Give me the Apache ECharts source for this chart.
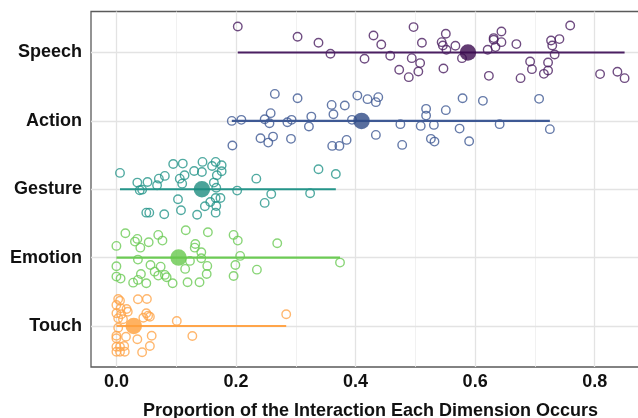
<!DOCTYPE html>
<html><head><meta charset="utf-8">
<script src="https://cdn.jsdelivr.net/npm/echarts@6/dist/echarts.min.js"></script>
<style>html,body{margin:0;padding:0;background:#fff}#c{width:638px;height:418px}</style>
</head><body><div id="c"></div>
<script>
// categories from bottom (1) to top (5)
const categories = ['Touch', 'Emotion', 'Gesture', 'Action', 'Speech'];
const xTicks = [0, 0.2, 0.4, 0.6, 0.8];
const xTickLabels = ['0.0', '0.2', '0.4', '0.6', '0.8'];
const xMinorTicks = [0.1, 0.3, 0.5, 0.7];
const xTitle = 'Proportion of the Interaction Each Dimension Occurs';

const speechX = [0.203,0.303,0.338,0.358,0.415,0.430,0.443,0.458,0.473,0.489,0.497,0.511,0.494,0.508,0.505,0.551,0.544,0.546,0.552,0.567,0.547,0.578,0.621,0.631,0.631,0.644,0.644,0.634,0.623,0.669,0.676,0.692,0.695,0.727,0.729,0.741,0.733,0.722,0.722,0.715,0.759,0.809,0.838,0.850];
const speechJitter = [0.380,0.230,0.142,-0.019,-0.092,0.249,0.117,-0.048,-0.253,-0.360,0.372,0.142,-0.082,-0.155,-0.278,0.274,0.152,0.102,0.040,0.098,-0.234,-0.082,0.040,0.211,0.186,0.307,0.152,0.079,-0.341,0.123,-0.375,-0.132,-0.243,0.176,0.102,0.196,-0.029,-0.146,-0.263,-0.312,0.395,-0.316,-0.282,-0.375];

const actionX = [0.193,0.209,0.194,0.265,0.248,0.258,0.256,0.241,0.254,0.262,0.303,0.286,0.293,0.292,0.326,0.322,0.360,0.363,0.382,0.361,0.373,0.385,0.403,0.420,0.434,0.438,0.394,0.434,0.475,0.478,0.518,0.518,0.509,0.531,0.526,0.532,0.551,0.579,0.574,0.590,0.613,0.641,0.707,0.725];
const actionJitter = [0.000,0.015,-0.361,0.395,0.025,0.113,-0.034,-0.253,-0.318,-0.230,0.332,-0.019,0.015,-0.263,0.063,-0.083,0.234,0.098,0.224,-0.366,-0.366,-0.278,0.370,0.318,0.274,0.347,0.015,-0.205,-0.048,-0.351,0.176,0.077,-0.073,-0.059,-0.263,-0.303,0.157,0.332,-0.113,-0.297,0.293,-0.048,0.322,-0.121];

const gestureX = [0.006,0.035,0.039,0.043,0.052,0.068,0.071,0.081,0.050,0.055,0.080,0.095,0.111,0.106,0.114,0.110,0.103,0.108,0.130,0.144,0.143,0.135,0.148,0.160,0.166,0.176,0.176,0.168,0.163,0.167,0.166,0.174,0.157,0.167,0.166,0.202,0.234,0.259,0.248,0.324,0.338,0.367];
const gestureJitter = [0.239,0.097,-0.015,-0.006,0.107,0.059,0.155,0.195,-0.342,-0.342,-0.366,0.370,0.375,0.155,0.205,0.082,-0.146,-0.307,0.268,0.400,0.253,-0.372,-0.249,0.341,0.400,0.351,0.263,0.205,0.097,0.023,-0.127,-0.127,-0.186,-0.244,-0.342,-0.020,0.155,-0.069,-0.200,-0.059,0.293,0.224];

const emotionX = [0.000,0.015,0.000,0.000,0.007,0.031,0.035,0.040,0.036,0.054,0.070,0.077,0.057,0.064,0.074,0.070,0.081,0.084,0.041,0.036,0.028,0.050,0.094,0.116,0.115,0.123,0.119,0.132,0.131,0.142,0.142,0.152,0.151,0.139,0.153,0.196,0.203,0.207,0.199,0.196,0.235,0.269,0.374];
const emotionJitter = [0.171,0.357,-0.126,-0.278,-0.307,0.234,0.274,0.146,-0.029,0.225,0.332,0.249,-0.107,-0.205,-0.132,-0.263,-0.253,-0.287,-0.239,-0.326,-0.366,-0.375,-0.375,0.401,-0.165,-0.048,-0.360,0.200,0.146,0.079,-0.009,-0.121,-0.239,-0.360,0.372,0.332,0.249,0.025,-0.107,-0.268,-0.176,0.211,-0.073];

const touchX = [0.003,0.006,0.000,0.007,0.017,0.000,0.008,0.019,0.003,0.011,0.036,0.051,0.050,0.056,0.045,0.053,0.003,0.000,0.000,0.016,0.035,0.059,0.056,0.000,0.006,0.013,0.000,0.006,0.014,0.043,0.101,0.127,0.284];
const touchJitter = [0.395,0.370,0.307,0.259,0.249,0.186,0.171,0.209,0.113,0.098,0.391,0.395,0.186,0.136,0.121,0.151,-0.025,-0.142,-0.180,-0.157,-0.195,-0.142,-0.293,-0.303,-0.303,-0.293,-0.376,-0.376,-0.376,-0.385,0.073,-0.146,0.171];

// mean proportion per category (Touch..Speech)
const meanValues = [0.029, 0.104, 0.143, 0.410, 0.588];

const groups = [
  {x: touchX, j: touchJitter, color: '#FFA54A', dark: '#FF9F3A'},
  {x: emotionX, j: emotionJitter, color: '#6CCB55', dark: '#66C84C'},
  {x: gestureX, j: gestureJitter, color: '#24958A', dark: '#1D8C7F'},
  {x: actionX, j: actionJitter, color: '#3E5994', dark: '#2E4A86'},
  {x: speechX, j: speechJitter, color: '#4B1F62', dark: '#3B0A4F'}
];

const FONT = '"Liberation Sans", Arial, Helvetica, sans-serif';
const series = [];

// grid lines (drawn first, underneath)
series.push({
  type: 'scatter', data: [], silent: true, z: 0,
  markLine: {
    z: 0, silent: true, symbol: 'none', label: {show: false}, animation: false,
    emphasis: {disabled: true},
    data: [
      ...xMinorTicks.map(v => ({xAxis: v, lineStyle: {color: '#EEEEEE', width: 0.8, type: 'solid'}})),
      ...xTicks.map(v => ({xAxis: v, lineStyle: {color: '#E3E3E3', width: 1.3, type: 'solid'}})),
      ...categories.map((c, i) => ({yAxis: i + 1, lineStyle: {color: '#E3E3E3', width: 1.3, type: 'solid'}}))
    ]
  }
});

groups.forEach((g, i) => {
  const yc = i + 1;
  series.push({
    type: 'scatter', z: 2,
    data: g.x.map((v, k) => [v, yc + g.j[k]]),
    symbol: 'circle', symbolSize: 8.5,
    itemStyle: {color: 'rgba(255,255,255,0)', borderColor: g.color, borderWidth: 1.4},
    animation: false
  });
});
groups.forEach((g, i) => {
  const yc = i + 1;
  series.push({
    type: 'line', z: 3,
    data: [[Math.min(...g.x), yc], [Math.max(...g.x), yc]],
    symbol: 'none', lineStyle: {color: g.color, width: 2.2, opacity: 1}, animation: false
  });
});
groups.forEach((g, i) => {
  series.push({
    type: 'scatter', z: 4,
    data: [[meanValues[i], i + 1]],
    symbol: 'circle', symbolSize: 16.5,
    itemStyle: {color: g.dark}, animation: false
  });
});

const chart = echarts.init(document.getElementById('c'), null, {renderer: 'canvas'});
chart.setOption({
  backgroundColor: '#ffffff',
  animation: false,
  grid: {left: 91, right: -12, top: 11.5, bottom: 51, containLabel: false, outerBoundsMode: 'none',
         show: true, borderColor: '#5A5A5A', borderWidth: 1.3, backgroundColor: '#fff'},
  xAxis: {
    type: 'value', min: -0.0425, max: 0.8925,
    axisLine: {show: false}, axisTick: {show: false}, splitLine: {show: false},
    axisLabel: {
      customValues: xTicks,
      formatter: v => { const k = xTicks.findIndex(t => Math.abs(t - v) < 1e-9); return k >= 0 ? xTickLabels[k] : ''; },
      color: '#111', fontFamily: FONT, fontWeight: 'bold', fontSize: 18, margin: 6
    },
    name: xTitle, nameLocation: 'middle', nameGap: 35,
    nameTextStyle: {color: '#111', fontFamily: FONT, fontWeight: 'bold', fontSize: 18}
  },
  yAxis: {
    type: 'value', min: 0.4, max: 5.6,
    axisLine: {show: false}, axisTick: {show: false}, splitLine: {show: false},
    axisLabel: {
      customValues: [1, 2, 3, 4, 5],
      formatter: v => categories[Math.round(v) - 1] || '',
      color: '#111', fontFamily: FONT, fontWeight: 'bold', fontSize: 18, margin: 9
    }
  },
  series: series
});
</script>
</body></html>
